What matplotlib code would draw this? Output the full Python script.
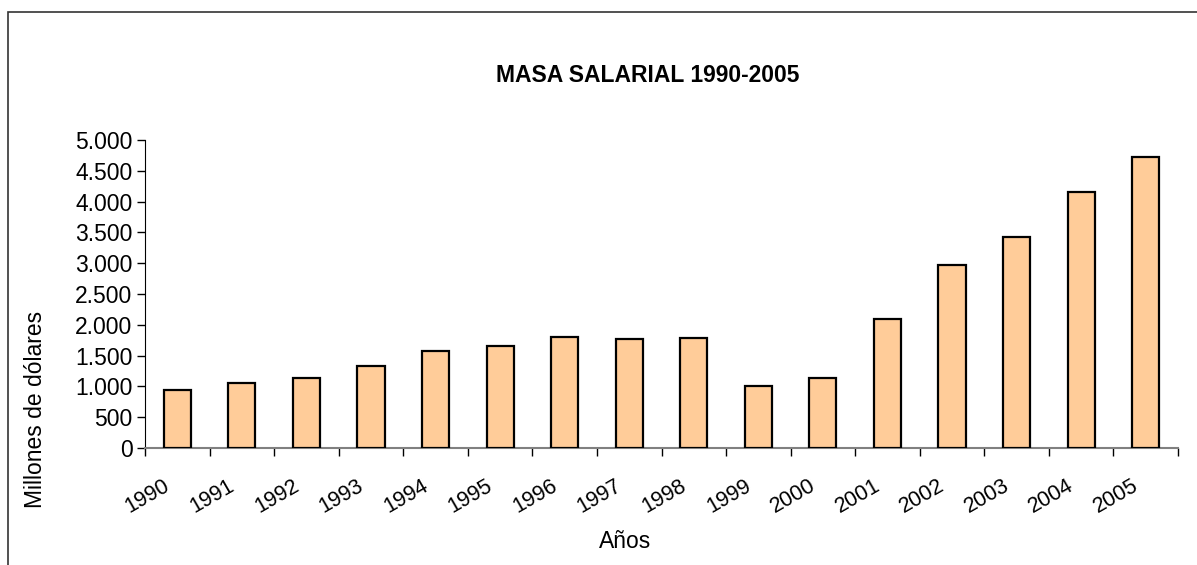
import matplotlib
matplotlib.use("Agg")
import matplotlib.pyplot as plt
import matplotlib.transforms as mtransforms
import numpy as np
from matplotlib.patches import Rectangle
from matplotlib.ticker import FuncFormatter, MultipleLocator

plt.rcParams["font.family"] = ["Liberation Sans", "DejaVu Sans"]

years = ["1990", "1991", "1992", "1993", "1994", "1995", "1996", "1997",
         "1998", "1999", "2000", "2001", "2002", "2003", "2004", "2005"]
masa = [938, 1063, 1144, 1339, 1567, 1654, 1795, 1773,
        1790, 1014, 1139, 2088, 2972, 3422, 4154, 4729]

W, H = 1197, 565
FS = 16.5
fig = plt.figure(figsize=(W / 100, H / 100), dpi=100)
ax = fig.add_axes([145 / W, 1 - 448 / H, (1178 - 145) / W, (448 - 140) / H])

x = np.arange(len(years))
ax.bar(x, masa, width=0.42, color="#FFCC99", edgecolor="black", linewidth=1.6,
       zorder=3)

ax.set_xlim(-0.5, len(years) - 0.5)
ax.set_ylim(0, 5000)
ax.yaxis.set_major_locator(MultipleLocator(500))
ax.yaxis.set_major_formatter(FuncFormatter(lambda v, p: f"{int(v):,}".replace(",", ".")))
ax.tick_params(axis="y", labelsize=FS, length=6, width=1, pad=3)

ax.set_xticks(x)
ax.set_xticklabels(years, rotation=30, ha="right", va="center",
                   rotation_mode="anchor", fontsize=15.5)
ax.set_xticks(np.arange(-0.5, len(years)), minor=True)
ax.tick_params(axis="x", which="major", length=0, pad=26)
ax.tick_params(axis="x", which="minor", length=6, width=1, color="black")
# nudge the year labels a little left, like the original
shift = mtransforms.ScaledTranslation(-9 / 100, 0, fig.dpi_scale_trans)
for lab in ax.get_xticklabels():
    lab.set_transform(lab.get_transform() + shift)

for s in ("top", "right"):
    ax.spines[s].set_visible(False)
ax.spines["left"].set_color("black")
ax.spines["bottom"].set_color("#808080")
ax.spines["bottom"].set_linewidth(1.5)

fig.text(648 / W, 1 - 76 / H, "MASA SALARIAL 1990-2005", ha="center", va="center",
         fontsize=FS, fontweight="bold")
fig.text(36 / W, 1 - 409 / H, "Millones de dólares", rotation=90, ha="center",
         va="center", fontsize=FS)
fig.text(625 / W, 1 - 541 / H, "Años", ha="center", va="center", fontsize=FS)

# chart-area border: only its left and top edges fall inside the picture
fig.patches.append(Rectangle((8 / W, -0.05), 1.1, 1.05 - 12 / H,
                             transform=fig.transFigure, fill=False,
                             edgecolor="#333333", linewidth=1.2))

fig.savefig("out.png", dpi=100)
